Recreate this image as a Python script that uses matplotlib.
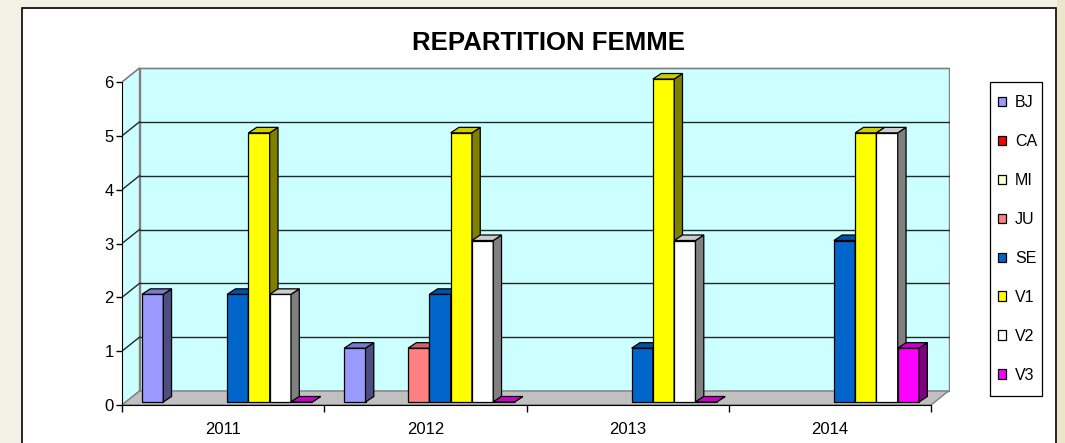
import matplotlib
matplotlib.use("Agg")
import matplotlib.pyplot as plt
from matplotlib.patches import Polygon, Rectangle, Patch

plt.rcParams['font.family'] = ['Liberation Sans', 'DejaVu Sans']

# ---------------- data ----------------
years = ["2011", "2012", "2013", "2014"]
series = ["BJ", "CA", "MI", "JU", "SE", "V1", "V2", "V3"]
BJ = [2, 1, None, None]
CA = [None, None, None, None]
MI = [None, None, None, None]
JU = [None, 1, None, None]
SE = [2, 2, 1, 3]
V1 = [5, 5, 6, 5]
V2 = [2, 3, 3, 5]
V3 = [0, 0, 0, 1]
values = [BJ, CA, MI, JU, SE, V1, V2, V3]
yticks = [0, 1, 2, 3, 4, 5, 6]

# colours: front, top, side
front_c = ["#9999FF", "#FF0000", "#FFFFCC", "#FF8080", "#0066CC", "#FFFF00", "#FFFFFF", "#FF00FF"]
top_c = ["#7A7ACC", "#CC0000", "#CCCCA3", "#CC6666", "#0052A3", "#CCCC00", "#CCCCCC", "#CC00CC"]
side_c = ["#4D4D80", "#800000", "#808066", "#804040", "#003366", "#808000", "#808080", "#800080"]

W, H = 1065, 443
fig = plt.figure(figsize=(W / 100, H / 100), dpi=100)
fig.patch.set_facecolor("#F3F1E6")
fig.patches.append(Rectangle((1057 / W, 0), 8 / W, 1, transform=fig.transFigure,
                             facecolor="#EAE6CC", edgecolor="none", zorder=0))
# white chart area with border
fig.patches.append(Rectangle((22 / W, -0.05), (1056 - 22) / W, 1.05 - 8 / H,
                             transform=fig.transFigure, facecolor="white",
                             edgecolor="black", linewidth=1.2, zorder=0.5))
# legend frame
fig.patches.append(Rectangle((990 / W, 1 - 396 / H), (1042 - 990) / W, (396 - 82) / H,
                             transform=fig.transFigure, facecolor="white",
                             edgecolor="black", linewidth=0.9, zorder=0.6))

# plot area
px_x = 202.25  # px per category
px_y = 53.83   # px per unit
left_px, bottom_px, right_px, top_px = 122, 405, 950, 66
ax = fig.add_axes([left_px / W, (H - bottom_px) / H, (right_px - left_px) / W,
                   (bottom_px - top_px) / H])
ax.set_zorder(2)
ax.set_xlim(0, (right_px - left_px) / px_x)
ax.set_ylim(0, (bottom_px - top_px) / px_y)
ax.patch.set_visible(False)

ncat = len(years)
ymax = max(yticks)
DX, DY = 17.5 / px_x, 14 / px_y        # wall depth
FX, FY = 4 / px_x, 3 / px_y            # bar front offset
BX, BY = 8.3 / px_x, 5.5 / px_y        # bar depth

wall = "#CCFFFF"
edge_g = "#808080"
# side wall
ax.add_patch(Polygon([(0, 0), (DX, DY), (DX, ymax + DY), (0, ymax)], closed=True,
                     facecolor=wall, edgecolor=edge_g, lw=1, zorder=1))
# back wall
ax.add_patch(Polygon([(DX, DY), (ncat + DX, DY), (ncat + DX, ymax + DY), (DX, ymax + DY)],
                     closed=True, facecolor=wall, edgecolor=edge_g, lw=1, zorder=1))
# floor
ax.add_patch(Polygon([(0, 0), (ncat, 0), (ncat + DX, DY), (DX, DY)], closed=True,
                     facecolor="#C0C0C0", edgecolor=edge_g, lw=1, zorder=2))
# gridlines
for t in yticks[1:]:
    lc = "#262626" if t < ymax else edge_g
    ax.plot([DX, ncat + DX], [t + DY, t + DY], color=lc, lw=1, zorder=2)
    ax.plot([0, DX], [t, t + DY], color=lc, lw=1, zorder=2)

# bars
nser = len(series)
w = 1 / (nser + 1.5)
z = 3
for g in range(ncat):
    for i in range(nser):
        v = values[i][g]
        if v is None:
            continue
        x0 = g + 0.75 * w + i * w + FX
        y0 = FY
        ax.bar(x0, v, width=w, bottom=y0, align="edge", color=front_c[i],
               edgecolor="black", lw=0.9, zorder=z)
        ax.add_patch(Polygon([(x0 + w, y0), (x0 + w + BX, y0 + BY),
                              (x0 + w + BX, y0 + v + BY), (x0 + w, y0 + v)],
                             closed=True, facecolor=side_c[i], edgecolor="black",
                             lw=0.9, zorder=z + 0.1))
        ax.add_patch(Polygon([(x0, y0 + v), (x0 + BX, y0 + v + BY),
                              (x0 + w + BX, y0 + v + BY), (x0 + w, y0 + v)],
                             closed=True, facecolor=top_c[i], edgecolor="black",
                             lw=0.9, zorder=z + 0.2))
        z += 1

# axes
for s in ["top", "right"]:
    ax.spines[s].set_visible(False)
ax.spines["left"].set_bounds(0, ymax)
ax.spines["bottom"].set_bounds(0, ncat)
ax.spines["left"].set_zorder(2.5)
ax.spines["bottom"].set_zorder(2.5)
ax.set_yticks(yticks)
ax.set_yticklabels([str(t) for t in yticks])
ax.set_xticks(range(ncat + 1))
ax.set_xticklabels([])
ax.set_xticks([g + 0.5 for g in range(ncat)], minor=True)
ax.set_xticklabels(years, minor=True)
ax.tick_params(axis="y", length=4, width=1, pad=2, labelsize=12)
ax.tick_params(axis="x", which="major", length=5, width=1)
ax.tick_params(axis="x", which="minor", length=0, pad=12, labelsize=12)

fig.text(548 / W, 1 - 43 / H, "REPARTITION FEMME", ha="center", va="center",
         fontsize=18.5, fontweight="bold")

handles = [Patch(facecolor=front_c[i], edgecolor="black", lw=0.9) for i in range(nser)]
leg = fig.legend(handles, series, loc="upper left",
                 bbox_to_anchor=(998 / W, 1 - 95 / H), bbox_transform=fig.transFigure,
                 frameon=False, fontsize=11.5, handlelength=0.52,
                 handleheight=0.52, handletextpad=0.55, labelspacing=1.5,
                 borderpad=0, borderaxespad=0)
leg.set_zorder(3)

fig.savefig("out.png", dpi=100, facecolor=fig.get_facecolor())
